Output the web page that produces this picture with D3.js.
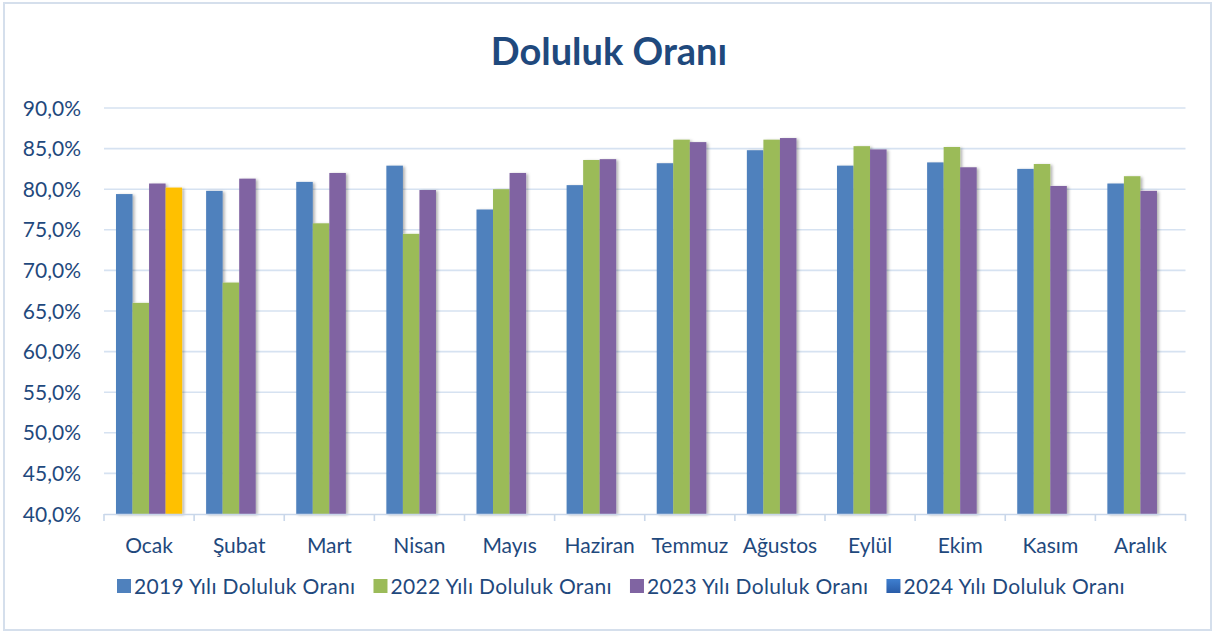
<!DOCTYPE html>
<html><head><meta charset="utf-8">
<script src="https://cdn.jsdelivr.net/npm/d3@7"></script>
<style>html,body{margin:0;padding:0;background:#fff;}svg{display:block;}</style>
</head><body>
<svg id="c" width="1215" height="634"></svg>
<script>
const title = "Doluluk Oranı";
const months = ["Ocak","Şubat","Mart","Nisan","Mayıs","Haziran","Temmuz","Ağustos","Eylül","Ekim","Kasım","Aralık"];
const seriesNames = ["2019 Yılı Doluluk Oranı","2022 Yılı Doluluk Oranı","2023 Yılı Doluluk Oranı","2024 Yılı Doluluk Oranı"];
const v2019 = [79.4,79.8,80.9,82.9,77.5,80.5,83.2,84.8,82.9,83.3,82.5,80.7];
const v2022 = [66.0,68.5,75.8,74.5,80.0,83.6,86.1,86.1,85.3,85.2,83.1,81.6];
const v2023 = [80.7,81.3,82.0,79.9,82.0,83.7,85.8,86.3,84.9,82.7,80.4,79.8];
const v2024 = [80.2,null,null,null,null,null,null,null,null,null,null,null];
const yTicks = [40,45,50,55,60,65,70,75,80,85,90];

const seriesColors = ["#4F81BD","#9BBB59","#8064A2","#FFC000"];
const legendColors = ["#4F81BD","#9BBB59","#8064A2","url(#lg2024)"];
const textColor = "#1F497D";
const font = "Lato, 'Open Sans', sans-serif";

(function(){
const svg = d3.select("#c");
const defs = svg.append("defs");
const lg = defs.append("linearGradient").attr("id","lg2024").attr("x1",0).attr("y1",0).attr("x2",0).attr("y2",1);
lg.append("stop").attr("offset","0%").attr("stop-color","#3f7fd0");
lg.append("stop").attr("offset","100%").attr("stop-color","#2a5ca8");
const f = defs.append("filter").attr("id","sh").attr("x","-20%").attr("y","-5%").attr("width","160%").attr("height","115%");
f.append("feDropShadow").attr("dx",2).attr("dy",1).attr("stdDeviation",1.5).attr("flood-color","#000").attr("flood-opacity",0.3);

svg.append("rect").attr("x",4).attr("y",3).attr("width",1207).attr("height",627)
  .attr("fill","#fff").attr("stroke","#d5dfec").attr("stroke-width",2);

const pl = 104, pr = 1185.5, pt = 108, pb = 514;
const x0 = d3.scaleBand().domain(months).range([pl,pr]).paddingInner(0).paddingOuter(0);
const bw = x0.bandwidth();
const x1 = d3.scaleBand().domain(seriesNames).range([bw*0.133, bw*0.867]).padding(0);
const y = d3.scaleLinear().domain([40,90]).range([pb,pt]);

svg.append("text").attr("x",609).attr("y",65).attr("text-anchor","middle")
  .attr("font-family",font).attr("font-weight","bold").attr("font-size",38)
  .attr("fill",textColor).text(title);

svg.append("g").selectAll("line").data(yTicks.slice(1)).join("line")
  .attr("x1",pl).attr("x2",pr).attr("y1",d=>y(d)).attr("y2",d=>y(d))
  .attr("stroke","#d6e2f1").attr("stroke-width",1.6);

svg.append("g").selectAll("text").data(yTicks).join("text")
  .attr("x",81).attr("y",d=>y(d)).attr("dy","0.36em").attr("text-anchor","end")
  .attr("font-family",font).attr("font-size",21).attr("fill",textColor)
  .text(d=>d3.format(".1f")(d).replace(".",",")+"%");

const all = [v2019,v2022,v2023,v2024];
const data = [];
months.forEach((m,i)=>all.forEach((arr,s)=>{ if(arr[i]!=null) data.push({m,s,v:arr[i]}); }));
svg.append("g").attr("filter","url(#sh)").selectAll("rect").data(data).join("rect")
  .attr("x",d=>x0(d.m)+x1(seriesNames[d.s]))
  .attr("width",x1.bandwidth())
  .attr("y",d=>y(d.v)).attr("height",d=>y(40)-y(d.v))
  .attr("fill",d=>seriesColors[d.s]);

svg.append("line").attr("x1",pl).attr("x2",pr).attr("y1",pb+0.5).attr("y2",pb+0.5)
  .attr("stroke","#c9d7ea").attr("stroke-width",1.6);
const bounds = months.map(m=>x0(m)).concat([pr]);
svg.append("g").selectAll("line").data(bounds).join("line")
  .attr("x1",d=>d).attr("x2",d=>d).attr("y1",pb).attr("y2",pb+7)
  .attr("stroke","#c9d7ea").attr("stroke-width",1.6);
svg.append("g").selectAll("text").data(months).join("text")
  .attr("x",d=>x0(d)+bw/2).attr("y",553).attr("text-anchor","middle")
  .attr("font-family",font).attr("font-size",21).attr("fill",textColor).text(d=>d);

const leg = svg.append("g");
const items = leg.selectAll("g").data(seriesNames).join("g");
items.append("rect").attr("width",14).attr("height",14).attr("y",-15).attr("fill",(d,i)=>legendColors[i]);
items.append("text").attr("x",17).attr("y",0).attr("font-family",font).attr("font-size",21)
  .attr("letter-spacing","0.35px").attr("fill",textColor).text(d=>d);
const gapL = 18; const widths=[];
items.each(function(){ widths.push(this.getBBox().width); });
let cx = 117;
items.attr("transform",(d,i)=>{ const t = `translate(${cx},594)`; cx += widths[i]+gapL; return t; });
})();
</script>
</body></html>
